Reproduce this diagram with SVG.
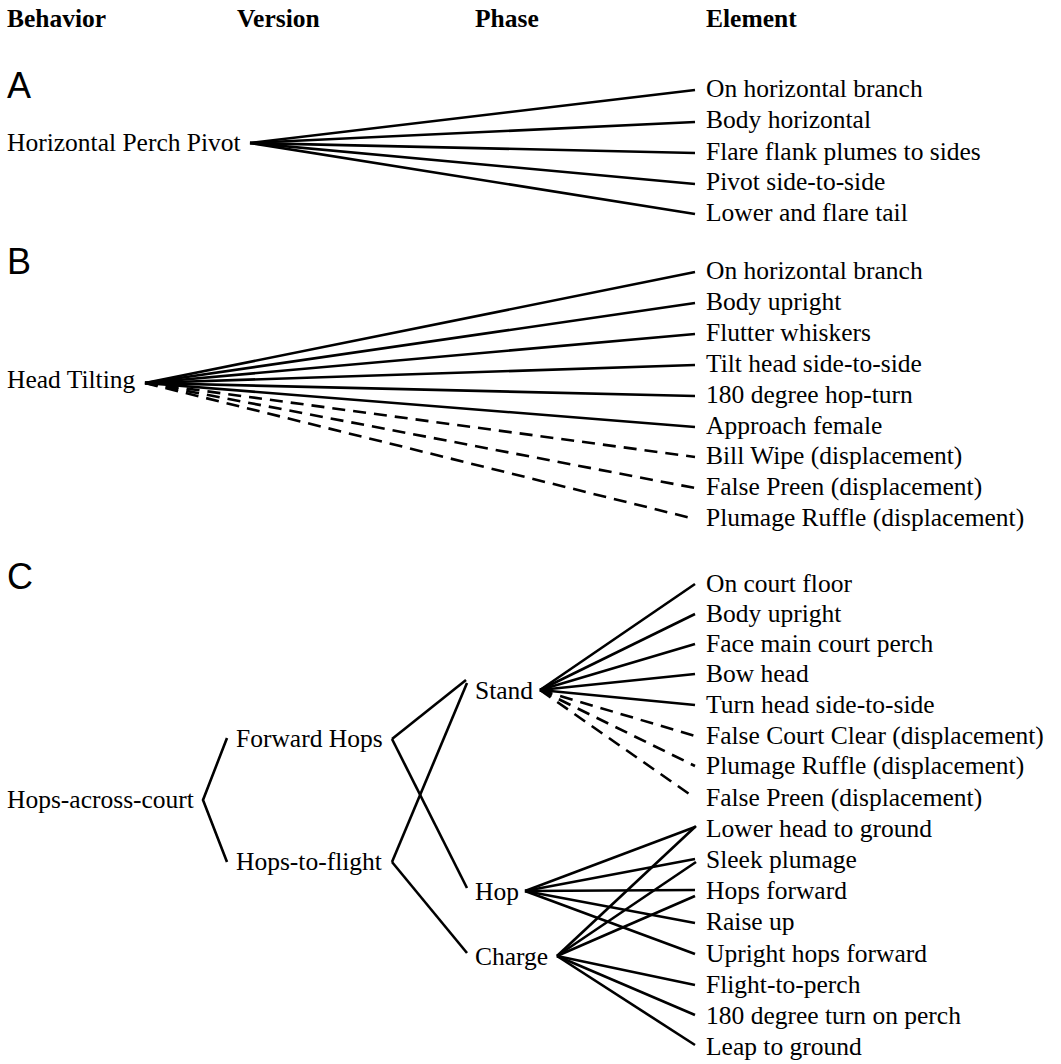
<svg xmlns="http://www.w3.org/2000/svg" width="1061" height="1064" viewBox="0 0 1061 1064">
<style>
text{font-family:"Liberation Serif","Times New Roman",serif;font-size:25.5px;fill:#000}
.h{font-weight:bold}
.lab{font-family:"Liberation Sans",Arial,sans-serif;font-size:36px}
line,polyline{stroke:#000;stroke-width:2.6;fill:none;stroke-linecap:butt}
.d{stroke-dasharray:13 8}
</style>
<rect width="1061" height="1064" fill="#fff"/>
<g id="header">
<text class="h" x="7" y="27">Behavior</text>
<text class="h" x="237" y="27">Version</text>
<text class="h" x="475" y="27">Phase</text>
<text class="h" x="706" y="27">Element</text>
</g>
<g id="panel-labels">
<text class="lab" x="7" y="98">A</text>
<text class="lab" x="7" y="274">B</text>
<text class="lab" x="7" y="589">C</text>
</g>
<g id="connectors">
<!-- A -->
<line x1="250" y1="143" x2="695" y2="90"/>
<line x1="250" y1="143" x2="695" y2="122"/>
<line x1="250" y1="143" x2="695" y2="153"/>
<line x1="250" y1="143" x2="695" y2="184"/>
<line x1="250" y1="143" x2="695" y2="214"/>
<!-- B -->
<line x1="145" y1="383" x2="695" y2="272"/>
<line x1="145" y1="383" x2="695" y2="303"/>
<line x1="145" y1="383" x2="695" y2="334"/>
<line x1="145" y1="383" x2="695" y2="365"/>
<line x1="145" y1="383" x2="695" y2="396"/>
<line x1="145" y1="383" x2="695" y2="427"/>
<line class="d" x1="145" y1="383" x2="695" y2="457"/>
<line class="d" x1="145" y1="383" x2="695" y2="488"/>
<line class="d" x1="145" y1="383" x2="695" y2="519"/>
<!-- C tree -->
<polyline points="227,738 203,800 227,862"/>
<line x1="392" y1="739" x2="466" y2="680"/>
<line x1="392" y1="739" x2="467" y2="888"/>
<line x1="392" y1="862" x2="467" y2="683"/>
<line x1="392" y1="862" x2="467" y2="953"/>
<!-- Stand -->
<line x1="540" y1="690" x2="695" y2="584"/>
<line x1="540" y1="690" x2="695" y2="614"/>
<line x1="540" y1="690" x2="695" y2="644"/>
<line x1="540" y1="690" x2="695" y2="674"/>
<line x1="540" y1="690" x2="695" y2="705"/>
<line class="d" x1="540" y1="690" x2="695" y2="736"/>
<line class="d" x1="540" y1="690" x2="695" y2="766"/>
<line class="d" x1="540" y1="690" x2="695" y2="798"/>
<!-- Hop -->
<line x1="525" y1="891" x2="695" y2="827"/>
<line x1="525" y1="891" x2="695" y2="859"/>
<line x1="525" y1="891" x2="695" y2="890"/>
<line x1="525" y1="891" x2="695" y2="923"/>
<line x1="525" y1="891" x2="695" y2="954"/>
<!-- Charge -->
<line x1="557" y1="956" x2="696" y2="826"/>
<line x1="557" y1="956" x2="696" y2="862"/>
<line x1="557" y1="956" x2="695" y2="896"/>
<line x1="557" y1="956" x2="695" y2="985"/>
<line x1="557" y1="956" x2="695" y2="1015"/>
<line x1="557" y1="956" x2="695" y2="1045"/>
</g>
<g id="node-horizontal-perch-pivot"><text x="7" y="151">Horizontal Perch Pivot</text></g>
<g id="elements-A">
<text x="706" y="97">On horizontal branch</text>
<text x="706" y="128">Body horizontal</text>
<text x="706" y="160">Flare flank plumes to sides</text>
<text x="706" y="190">Pivot side-to-side</text>
<text x="706" y="221">Lower and flare tail</text>
</g>
<g id="node-head-tilting"><text x="7" y="388">Head Tilting</text></g>
<g id="elements-B">
<text x="706" y="279">On horizontal branch</text>
<text x="706" y="310">Body upright</text>
<text x="706" y="341">Flutter whiskers</text>
<text x="706" y="372">Tilt head side-to-side</text>
<text x="706" y="403">180 degree hop-turn</text>
<text x="706" y="434">Approach female</text>
<text x="706" y="464">Bill Wipe (displacement)</text>
<text x="706" y="495">False Preen (displacement)</text>
<text x="706" y="526">Plumage Ruffle (displacement)</text>
</g>
<g id="node-hops-across-court"><text x="7" y="808">Hops-across-court</text></g>
<g id="node-forward-hops"><text x="236" y="747">Forward Hops</text></g>
<g id="node-hops-to-flight"><text x="236" y="870">Hops-to-flight</text></g>
<g id="node-stand"><text x="475" y="699">Stand</text></g>
<g id="node-hop"><text x="475" y="900">Hop</text></g>
<g id="node-charge"><text x="475" y="965">Charge</text></g>
<g id="elements-C">
<text x="706" y="592">On court floor</text>
<text x="706" y="622">Body upright</text>
<text x="706" y="652">Face main court perch</text>
<text x="706" y="682">Bow head</text>
<text x="706" y="713">Turn head side-to-side</text>
<text x="706" y="744">False Court Clear (displacement)</text>
<text x="706" y="774">Plumage Ruffle (displacement)</text>
<text x="706" y="806">False Preen (displacement)</text>
<text x="706" y="837">Lower head to ground</text>
<text x="706" y="868">Sleek plumage</text>
<text x="706" y="899">Hops forward</text>
<text x="706" y="930">Raise up</text>
<text x="706" y="962">Upright hops forward</text>
<text x="706" y="993">Flight-to-perch</text>
<text x="706" y="1024">180 degree turn on perch</text>
<text x="706" y="1055">Leap to ground</text>
</g>
</svg>
